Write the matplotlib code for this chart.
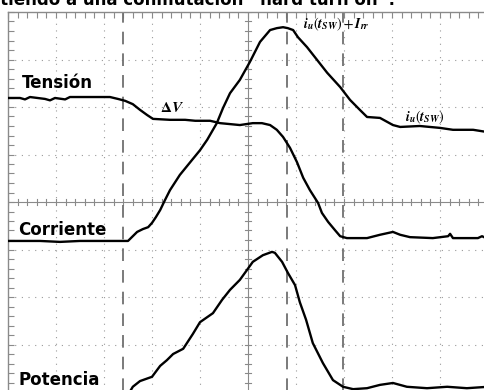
import numpy as np
import matplotlib
matplotlib.use('Agg')
import matplotlib.pyplot as plt

plt.rcParams['mathtext.fontset'] = 'stix'

# traces in screen divisions (10 horizontal x 8 vertical)
t_tension = [0, 0.25, 0.354, 0.458, 0.771, 0.875, 0.979, 1.19, 1.29, 1.60, 2.125, 2.29, 2.44, 2.60,
             2.75, 2.90, 3.02, 3.375, 3.69, 3.90, 4.21, 4.42, 4.83, 5.10, 5.29, 5.46, 5.60, 5.73,
             5.875, 6.02, 6.15, 6.29, 6.46, 6.54, 6.67, 6.81, 6.92, 7.06, 7.48, 7.75, 8.02, 8.17,
             8.375, 8.85, 9.17, 9.21, 9.27, 9.79, 9.875, 10.0]
v_tension = [6.19, 6.19, 6.16, 6.21, 6.17, 6.14, 6.19, 6.16, 6.21, 6.21, 6.21, 6.17, 6.13, 6.06,
             5.94, 5.83, 5.75, 5.73, 5.73, 5.71, 5.71, 5.66, 5.62, 5.66, 5.66, 5.62, 5.52, 5.37,
             5.14, 4.84, 4.51, 4.25, 3.98, 3.77, 3.58, 3.41, 3.28, 3.24, 3.24, 3.31, 3.37, 3.31,
             3.26, 3.24, 3.28, 3.33, 3.24, 3.24, 3.28, 3.22]

t_corriente = [0, 0.667, 1.083, 1.5, 1.917, 2.5, 2.58, 2.69, 2.81, 2.92, 3.0, 3.08, 3.17, 3.27,
               3.375, 3.58, 3.83, 4.0, 4.15, 4.35, 4.48, 4.625, 4.83, 5.04, 5.25, 5.46, 5.60,
               5.73, 5.83, 5.94, 6.04, 6.23, 6.44, 6.65, 6.92, 7.125, 7.33, 7.48, 7.75, 8.02,
               8.17, 8.58, 9.0, 9.27, 9.69, 10.0]
v_corriente = [3.18, 3.18, 3.16, 3.18, 3.18, 3.18, 3.26, 3.37, 3.43, 3.47, 3.56, 3.68, 3.83, 4.04,
               4.25, 4.57, 4.88, 5.09, 5.31, 5.66, 5.98, 6.29, 6.57, 6.95, 7.37, 7.62, 7.66,
               7.68, 7.66, 7.62, 7.47, 7.26, 6.99, 6.72, 6.42, 6.15, 5.94, 5.79, 5.77, 5.62,
               5.58, 5.60, 5.56, 5.52, 5.52, 5.47]

t_potencia = [0, 2.5, 2.60, 2.75, 3.0, 3.17, 3.31, 3.44, 3.65, 3.85, 4.0, 4.27, 4.46, 4.625, 4.83,
              4.98, 5.10, 5.31, 5.5, 5.56, 5.71, 5.83, 5.98, 6.08, 6.21, 6.35, 6.56, 6.77, 6.98,
              7.19, 7.48, 7.75, 8.02, 8.31, 8.73, 9.15, 9.56, 10.0]
v_potencia = [-0.06, -0.06, 0.11, 0.23, 0.32, 0.55, 0.67, 0.80, 0.91, 1.22, 1.47, 1.66, 1.94, 2.15,
              2.36, 2.57, 2.74, 2.88, 2.95, 2.93, 2.74, 2.51, 2.25, 1.89, 1.52, 1.03, 0.61, 0.25,
              0.11, 0.06, 0.08, 0.15, 0.19, 0.11, 0.08, 0.11, 0.08, 0.11]

cursores = [2.40, 5.81, 6.98]

fig = plt.figure(figsize=(4.85, 3.90), dpi=100)
ax = fig.add_axes([8 / 485, -2 / 390, 480 / 485, 380 / 390])
ax.set_xlim(0, 10)
ax.set_ylim(0, 8)

grid_c = '#9a9a9a'
for gx in range(1, 10):
    if gx != 5:
        ax.axvline(gx, color=grid_c, lw=0.8, ls=(0, (1, 5)), zorder=1)
for gy in range(1, 8):
    if gy != 4:
        ax.axhline(gy, color=grid_c, lw=0.8, ls=(0, (1, 5)), zorder=1)

# center cross with small ticks
ax.axvline(5, color='#8a8a8a', lw=0.8, zorder=1)
ax.axhline(4, color='#8a8a8a', lw=0.8, zorder=1)
ticks_x = np.arange(0, 10.01, 0.2)
ticks_y = np.arange(0, 8.01, 0.2)
ax.plot(np.repeat(ticks_x, 3), np.tile([3.93, 4.07, np.nan], len(ticks_x)), color='#8a8a8a', lw=0.8, zorder=1)
ax.plot(np.tile([4.93, 5.07, np.nan], len(ticks_y)), np.repeat(ticks_y, 3), color='#8a8a8a', lw=0.8, zorder=1)

for cx in cursores:
    ax.axvline(cx, color='#707070', lw=1.3, ls=(0, (7, 5)), zorder=2)

ax.plot(t_tension, v_tension, color='black', lw=1.7, zorder=4)
ax.plot(t_corriente, v_corriente, color='black', lw=1.7, zorder=4)
ax.plot(t_potencia, v_potencia, color='black', lw=1.7, zorder=4)

ax.set_xticks(np.arange(0, 11, 1))
ax.set_yticks(np.arange(0, 9, 1))
ax.set_xticks(ticks_x, minor=True)
ax.set_yticks(ticks_y, minor=True)
ax.tick_params(which='both', direction='in', top=True, bottom=False, left=True, right=False,
               labelbottom=False, labelleft=False, length=4, color='#8a8a8a', width=0.8)
for s in ax.spines.values():
    s.set_color('#8a8a8a')
    s.set_linewidth(1.0)

lab = dict(fontsize=12, fontweight='bold', color='black', zorder=5)
ax.text(0.29, 6.4, 'Tensión', **lab)
ax.text(0.21, 3.31, 'Corriente', **lab)
ax.text(0.21, 0.15, 'Potencia', **lab)

ax.text(3.17, 6.0, r'$\mathbf{\Delta}\mathbfit{V}$', fontsize=11, va='center', zorder=5)
ax.text(6.15, 7.75, r'$\mathbfit{i}_{\mathbfit{u}}(\mathbfit{t}_{\mathbfit{SW}})+\mathbfit{I}_{\mathbfit{rr}}$',
        fontsize=10, va='center', zorder=5)
ax.text(8.27, 5.79, r'$\mathbfit{i}_{\mathbfit{u}}(\mathbfit{t}_{\mathbfit{SW}})$',
        fontsize=10, va='center', zorder=5)

# caption line of the source page, only its lower part shows above the screen
fig.text(395 / 485, 385 / 390, 'sometiendo a una conmutación “hard turn on”.',
         ha='right', va='baseline', fontsize=12, fontweight='bold')

fig.savefig('out.png', dpi=100)
